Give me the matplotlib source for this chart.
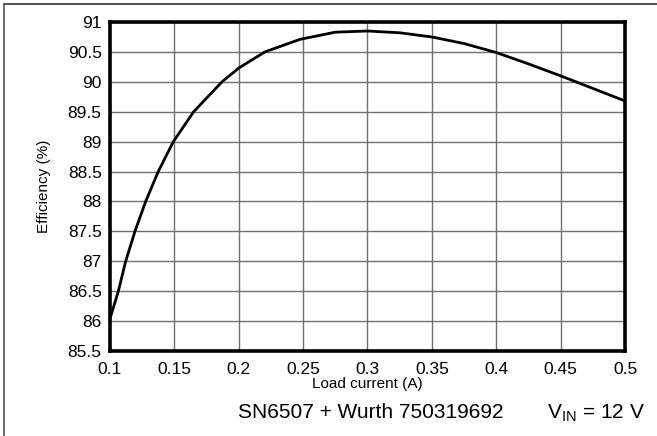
import matplotlib
matplotlib.use('Agg')
import matplotlib.pyplot as plt
from matplotlib.lines import Line2D

plt.rcParams['font.family'] = ['Liberation Sans', 'DejaVu Sans']

# values
load_current = [0.1, 0.1065, 0.1122, 0.1194, 0.1277, 0.1375, 0.1492, 0.165,
                0.187, 0.2, 0.2203, 0.2475, 0.275, 0.3, 0.325, 0.35, 0.375, 0.4,
                0.425, 0.45, 0.475, 0.5]
efficiency = [86.04, 86.5, 87.0, 87.5, 88.0, 88.5, 89.0, 89.5,
              90.0, 90.23, 90.5, 90.71, 90.83, 90.85, 90.82, 90.75, 90.64, 90.49,
              90.3, 90.1, 89.89, 89.68]

x_ticks = [0.1, 0.15, 0.2, 0.25, 0.3, 0.35, 0.4, 0.45, 0.5]
x_tick_labels = ['0.1', '0.15', '0.2', '0.25', '0.3', '0.35', '0.4', '0.45', '0.5']
y_ticks = [85.5, 86, 86.5, 87, 87.5, 88, 88.5, 89, 89.5, 90, 90.5, 91]
y_tick_labels = ['85.5', '86', '86.5', '87', '87.5', '88', '88.5', '89', '89.5', '90', '90.5', '91']

fig = plt.figure(figsize=(6.57, 4.36), dpi=100)
ax = fig.add_axes([0.1674, 0.195, 0.7839, 0.7545])

ax.plot(load_current, efficiency, color='black', linewidth=2.0,
        solid_joinstyle='round')

ax.set_xlim(0.1, 0.5)
ax.set_ylim(85.5, 91)
ax.set_xticks(x_ticks)
ax.set_xticklabels(x_tick_labels, fontsize=12.5)
ax.set_yticks(y_ticks)
ax.set_yticklabels(y_tick_labels, fontsize=12.5)
ax.tick_params(axis='x', length=0, pad=8)
ax.tick_params(axis='y', length=0, pad=6)
ax.grid(True, color='#707070', linewidth=1.0)
ax.set_axisbelow(True)
for s in ax.spines.values():
    s.set_linewidth(2.6)
    s.set_color('black')

ax.set_xlabel('Load current (A)', fontsize=11, labelpad=0)
ax.set_ylabel('Efficiency (%)', fontsize=11, labelpad=12)

fig.text(0.565, 0.041, 'SN6507 + Wurth 750319692', fontsize=15, ha='center', va='baseline')
fig.text(0.982, 0.041, r'V$_{\mathregular{IN}}$ = 12 V', fontsize=15, ha='right', va='baseline')

# page frame lines (top and left)
fig.add_artist(Line2D([4/657, 1], [1 - 4/436, 1 - 4/436], color='#333333', linewidth=1.2,
                      transform=fig.transFigure))
fig.add_artist(Line2D([4/657, 4/657], [0, 1 - 4/436], color='#555555', linewidth=1.2,
                      transform=fig.transFigure))

fig.savefig('out.png', dpi=100)
